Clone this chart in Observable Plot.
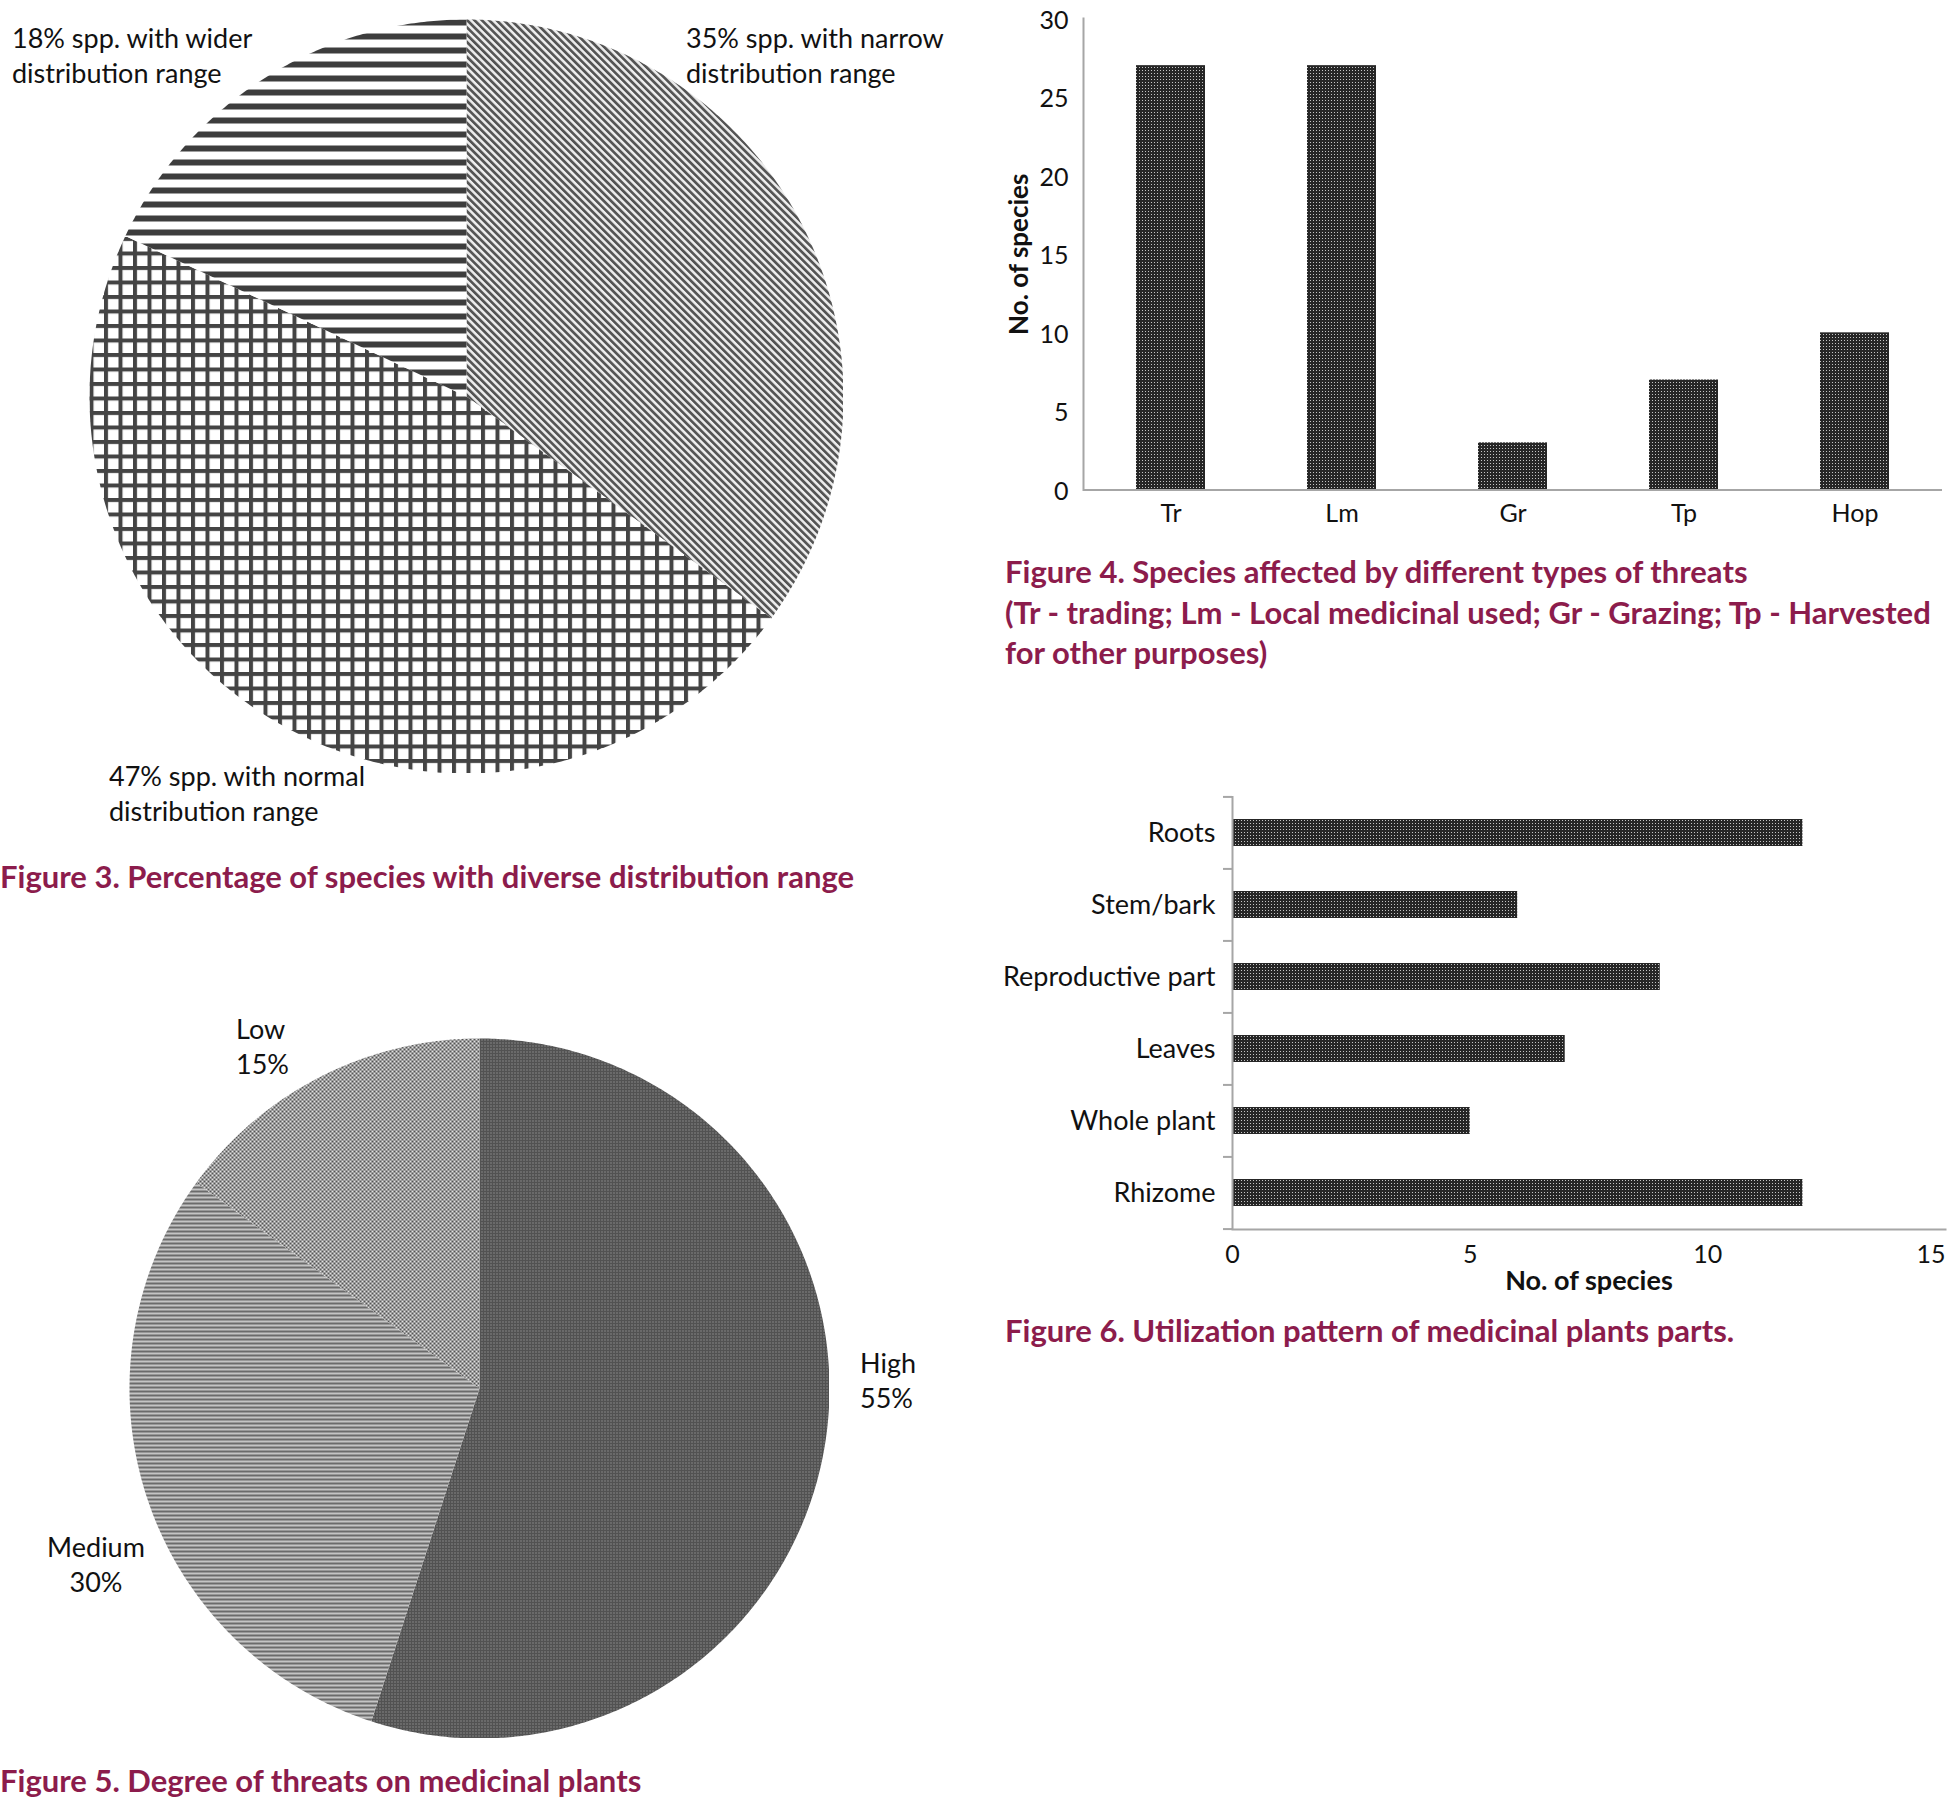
<!DOCTYPE html>
<html><head><meta charset="utf-8">
<script src="https://cdn.jsdelivr.net/npm/d3@7"></script>
<script src="https://cdn.jsdelivr.net/npm/@observablehq/plot@0.6"></script>
<style>
body{margin:0;background:#fff;}
#page{position:relative;width:1948px;height:1805px;font-family:Lato,"Noto Sans",sans-serif;color:#111;overflow:hidden;background:#fff;}
.lbl{position:absolute;font-size:27px;line-height:35px;white-space:nowrap;color:#111;}
.cap{position:absolute;font-size:31px;line-height:40.5px;font-weight:bold;color:#8c1c4c;white-space:nowrap;}
</style></head>
<body>
<svg width="0" height="0" style="position:absolute">
<defs>
  <pattern id="p3narrow" width="5.2" height="5.2" patternUnits="userSpaceOnUse" patternTransform="rotate(-45)">
    <rect width="5.2" height="5.2" fill="#eeeeee"/><rect width="2.7" height="5.2" fill="#555"/>
  </pattern>
  <pattern id="p3wider" width="14" height="14" patternUnits="userSpaceOnUse">
    <rect width="14" height="14" fill="#fff"/><rect width="14" height="6" fill="#3d3d3d"/>
  </pattern>
  <pattern id="p3normal" width="14.5" height="14.5" patternUnits="userSpaceOnUse">
    <rect width="14.5" height="14.5" fill="#fff"/><rect width="4" height="14.5" fill="#444"/><rect width="14.5" height="4" fill="#444"/>
  </pattern>
  <pattern id="p5high" width="3" height="3" patternUnits="userSpaceOnUse">
    <rect width="3" height="3" fill="#525252"/><rect x="1" y="1" width="1" height="1" fill="#b0b0b0"/>
  </pattern>
  <pattern id="p5medium" width="4" height="4" patternUnits="userSpaceOnUse">
    <rect width="4" height="4" fill="#c4c4c4"/><rect width="4" height="2" fill="#6b6b6b"/>
  </pattern>
  <pattern id="p5low" width="4" height="4" patternUnits="userSpaceOnUse">
    <rect width="4" height="4" fill="#e0e0e0"/><rect width="2" height="2" fill="#555"/><rect x="2" y="2" width="2" height="2" fill="#555"/>
  </pattern>
  <pattern id="pbar" width="3" height="3" patternUnits="userSpaceOnUse">
    <rect width="3" height="3" fill="#262626"/><rect x="1" y="1" width="1" height="1" fill="#c4c4c4"/>
  </pattern>
</defs>
</svg>
<div id="page"></div>
<script>
// ---------- DATA ----------
// Figure 3 (clockwise from 12 o'clock)
const fig3Labels = ["35% spp. with narrow distribution range", "47% spp. with normal distribution range", "18% spp. with wider distribution range"];
const fig3Values = [35, 47, 18];
const fig3Patterns = ["p3narrow", "p3normal", "p3wider"];

// Figure 4
const fig4Categories = ["Tr", "Lm", "Gr", "Tp", "Hop"];
const fig4Values = [27, 27, 3, 7, 10];
const fig4Ticks = [0, 5, 10, 15, 20, 25, 30];

// Figure 5 (clockwise from 12 o'clock)
const fig5Categories = ["High", "Medium", "Low"];
const fig5Values = [55, 30, 15];
const fig5Patterns = ["p5high", "p5medium", "p5low"];

// Figure 6
const fig6Parts = ["Roots", "Stem/bark", "Reproductive part", "Leaves", "Whole plant", "Rhizome"];
const fig6Values = [12, 6, 9, 7, 5, 12];
const fig6Ticks = [0, 5, 10, 15];

const axisTitle = "No. of species";
const captions = {
  f3: "Figure 3. Percentage of species with diverse distribution range",
  f4: ["Figure 4. Species affected by different types of threats", "(Tr - trading; Lm - Local medicinal used; Gr - Grazing; Tp - Harvested", "for other purposes)"],
  f5: "Figure 5. Degree of threats on medicinal plants",
  f6: "Figure 6. Utilization pattern of medicinal plants parts."
};

// ---------- HELPERS ----------
const page = document.getElementById("page");
const FONT = "Lato, 'Noto Sans', sans-serif";

function place(el, left, top) {
  el.style.position = "absolute";
  el.style.left = left + "px";
  el.style.top = top + "px";
  page.appendChild(el);
}
function slices(values) {
  return d3.pie().sort(null)(values).map(a => {
    const pts = [{x: 0, y: 0}];
    const n = Math.max(2, Math.ceil((a.endAngle - a.startAngle) / (Math.PI / 360)));
    for (let i = 0; i <= n; i++) {
      const t = a.startAngle + (a.endAngle - a.startAngle) * i / n;
      pts.push({x: Math.sin(t), y: Math.cos(t)});
    }
    return pts;
  });
}
function piePlot(values, patterns, size) {
  return Plot.plot({
    width: size, height: size, margin: 0,
    style: {background: "transparent"},
    x: {domain: [-1, 1], axis: null},
    y: {domain: [-1, 1], axis: null},
    marks: slices(values).map((pts, i) =>
      Plot.line(pts, {x: "x", y: "y", fill: `url(#${patterns[i]})`, stroke: "none"}))
  });
}
function label(lines, left, top, align) {
  const d = document.createElement("div");
  d.className = "lbl";
  d.innerHTML = lines.join("<br>");
  if (align) { d.style.textAlign = align; d.style.width = "120px"; }
  place(d, left, top);
}
function caption(lines, left, top) {
  const d = document.createElement("div");
  d.className = "cap";
  d.innerHTML = [].concat(lines).join("<br>");
  place(d, left, top);
}

const axisStroke = "#a6a6a6";

// ---------- FIGURE 3 ----------
place(piePlot(fig3Values, fig3Patterns, 754), 89, 19);

// ---------- FIGURE 5 ----------
place(piePlot(fig5Values, fig5Patterns, 700), 129, 1038);

// ---------- FIGURE 4 ----------
const fig4Data = fig4Categories.map((c, i) => ({c, v: fig4Values[i]}));
const fig4 = Plot.plot({
  width: 948, height: 540,
  marginLeft: 83, marginTop: 18, marginRight: 6, marginBottom: 50.5,
  style: {fontFamily: FONT, fontSize: "25px", color: "#111", background: "transparent"},
  x: {domain: fig4Categories, paddingInner: 0.594, paddingOuter: 0.297},
  y: {domain: [0, 30]},
  marks: [
    Plot.barY(fig4Data, {x: "c", y: "v", fill: "url(#pbar)"}),
    Plot.axisX({tickSize: 0, tickPadding: 14, label: null}),
    Plot.axisY({ticks: fig4Ticks, tickSize: 0, tickPadding: 15, dy: 2, label: null}),
    Plot.ruleY([0], {stroke: axisStroke, strokeWidth: 2}),
    Plot.frame({anchor: "left", stroke: axisStroke, strokeWidth: 2}),
    Plot.text([axisTitle], {text: d => d, frameAnchor: "left", textAnchor: "middle", rotate: -90, dx: -64, fontWeight: "bold", fontSize: 26})
  ]
});
place(fig4, 1000, 0);

// ---------- FIGURE 6 ----------
const fig6Data = fig6Parts.map((p, i) => ({p, v: fig6Values[i]}));
const step6 = 433 / fig6Parts.length;
const fig6 = Plot.plot({
  width: 948, height: 519,
  marginLeft: 232, marginTop: 16, marginRight: 3, marginBottom: 70,
  style: {fontFamily: FONT, fontSize: "25px", color: "#111", background: "transparent"},
  x: {domain: [0, 15]},
  y: {domain: fig6Parts, paddingInner: 0.626, paddingOuter: 0.313},
  marks: [
    Plot.barX(fig6Data, {x: "v", y: "p", fill: "url(#pbar)"}),
    Plot.axisY({tickSize: 0, tickPadding: 17, fontSize: 27, label: null}),
    Plot.axisX({ticks: fig6Ticks.slice(0, -1), tickSize: 0, tickPadding: 16, label: null}),
    Plot.text(fig6Ticks.slice(-1), {x: d => d, text: d => String(d), frameAnchor: "bottom", textAnchor: "end", lineAnchor: "top", dy: 16}),
    Plot.ruleY(fig6Parts, {y: d => d, x1: -0.19, x2: 0, dy: -step6 / 2, stroke: axisStroke, strokeWidth: 2}),
    Plot.ruleY(fig6Parts.slice(-1), {y: d => d, x1: -0.19, x2: 0, dy: step6 / 2, stroke: axisStroke, strokeWidth: 2}),
    Plot.ruleX([0], {stroke: axisStroke, strokeWidth: 2}),
    Plot.frame({anchor: "bottom", stroke: axisStroke, strokeWidth: 2}),
    Plot.text([axisTitle], {text: d => d, frameAnchor: "bottom", textAnchor: "middle", dy: 60, fontWeight: "bold", fontSize: 27})
  ]
});
place(fig6, 1000, 780);

// ---------- LABELS ----------
const split = s => { const k = s.indexOf(" distribution"); return [s.slice(0, k), s.slice(k + 1)]; };
label(split(fig3Labels[2]), 12, 19.5);
label(split(fig3Labels[0]), 686, 19.5);
label(split(fig3Labels[1]), 109, 757.5);

label([fig5Categories[2], fig5Values[2] + "%"], 236, 1011);
label([fig5Categories[0], fig5Values[0] + "%"], 860, 1345);
label([fig5Categories[1], fig5Values[1] + "%"], 36, 1529, "center");

// ---------- CAPTIONS ----------
caption(captions.f3, 0, 856);
caption(captions.f4, 1005, 551);
caption(captions.f5, 0, 1760);
caption(captions.f6, 1005, 1310);
</script>
</body></html>
